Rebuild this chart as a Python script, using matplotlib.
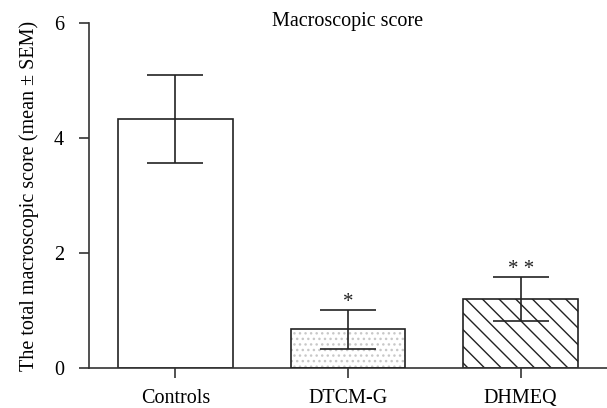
import matplotlib
matplotlib.use('Agg')
import matplotlib.pyplot as plt

# values
groups = ['Controls', 'DTCM-G', 'DHMEQ']
means = [4.33, 0.67, 1.20]
sems = [0.76, 0.34, 0.38]
marks = ['', '*', '* *']
y_ticks = [0, 2, 4, 6]

plt.rcParams['font.family'] = ['Liberation Serif', 'DejaVu Serif']
plt.rcParams['hatch.linewidth'] = 1.0

fig = plt.figure(figsize=(6.07, 4.08), dpi=100)
ax = fig.add_axes([0.1466, 0.098, 0.8534, 0.8456])

x = list(range(len(groups)))
w = 0.665

# DTCM-G light dots, DHMEQ diagonal lines
ax.bar(x[0], means[0], w, color='white', edgecolor='#222222', linewidth=1.2, zorder=2)
ax.bar(x[1], means[1], w, color='white', edgecolor='#c8c8c8', linewidth=0, hatch='...', zorder=2)
ax.bar(x[1], means[1], w, color='none', edgecolor='#222222', linewidth=1.2, zorder=3)
ax.bar(x[2], means[2], w, color='white', edgecolor='#222222', linewidth=1.2, hatch='\\\\', zorder=2)

ax.errorbar(x, means, yerr=sems, fmt='none', ecolor='#222222', elinewidth=1.2,
            capsize=20.5, capthick=1.2, zorder=4)

for i in x:
    if marks[i]:
        ax.text(i, means[i] + sems[i] - 0.03, marks[i], ha='center', va='bottom', fontsize=15,
                color='#222222')

ax.set_xlim(-0.5, 2.5)
ax.set_ylim(0, 6)
ax.set_xticks(x)
ax.set_xticklabels(groups, fontsize=14.5)
ax.set_yticks(y_ticks)
ax.set_yticklabels([str(t) for t in y_ticks], fontsize=14.5)
ax.tick_params(direction='out', length=7, width=1.2, color='#333333')
ax.tick_params(axis='x', pad=8)
ax.tick_params(axis='y', pad=11)
for s in ['top', 'right']:
    ax.spines[s].set_visible(False)
for s in ['left', 'bottom']:
    ax.spines[s].set_linewidth(1.2)
    ax.spines[s].set_color('#333333')

ax.set_ylabel('The total macroscopic score (mean \u00b1 SEM)', fontsize=14.5, labelpad=11)
ax.text(0.5, 1.005, 'Macroscopic score', transform=ax.transAxes, ha='center', va='center',
        fontsize=14.5)

fig.savefig('out.png', dpi=100)
